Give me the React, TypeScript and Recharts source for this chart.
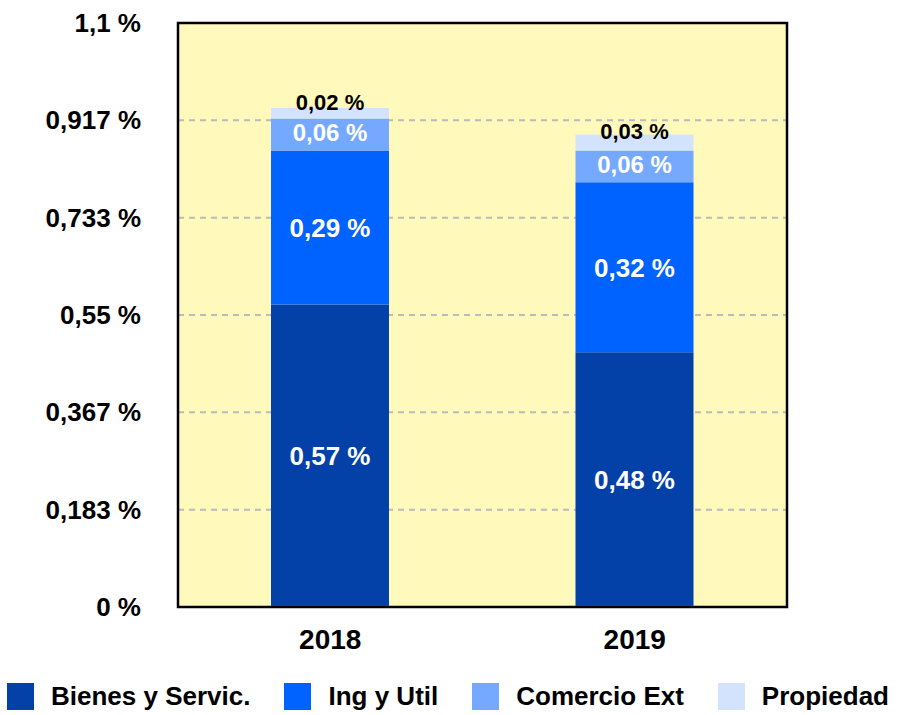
import { Bar, BarChart, CartesianGrid, LabelList, ReferenceArea, XAxis, YAxis } from "recharts";

const years = ["2018", "2019"];
const bienes = [0.57, 0.48];
const ingUtil = [0.29, 0.32];
const comercio = [0.06, 0.06];
const propiedad = [0.02, 0.03];
const yTicks = [0, 0.183, 0.367, 0.55, 0.733, 0.917, 1.1];

const seriesNames = ["Bienes y Servic.", "Ing y Util", "Comercio Ext", "Propiedad"];
const seriesKeys = ["bienes", "ingUtil", "comercio", "propiedad"];
const seriesColors = ["#0341a8", "#0062ff", "#75a9ff", "#d3e3fd"];

const data = years.map((year, i) => ({
  year,
  bienes: bienes[i],
  ingUtil: ingUtil[i],
  comercio: comercio[i],
  propiedad: propiedad[i],
}));

const FONT = "'Liberation Sans', Arial, Helvetica, sans-serif";

const fmtPct = (v: number) => v.toFixed(2).replace(".", ",") + " %";
const fmtTick = (v: number) => String(v).replace(".", ",") + " %";

function makeLabel(fontSize: number, color: string, shift: number) {
  return (props: any) => {
    const { x, y, width, height, value } = props;
    const cx = Number(x) + Number(width) / 2;
    const cy = Number(y) + Number(height) / 2 + shift;
    return (
      <text
        x={cx}
        y={cy}
        dy={fontSize * 0.36}
        textAnchor="middle"
        fill={color}
        fontSize={fontSize}
        fontWeight="bold"
        fontFamily={FONT}
      >
        {fmtPct(Number(value))}
      </text>
    );
  };
}

const YTick = (props: any) => {
  const { x, y, payload } = props;
  return (
    <text x={x} y={y} dy={9} textAnchor="end" fill="#000" fontSize={26} fontWeight="bold" fontFamily={FONT}>
      {fmtTick(payload.value)}
    </text>
  );
};

const XTick = (props: any) => {
  const { x, y, payload } = props;
  return (
    <text x={x} y={y} dy={42} textAnchor="middle" fill="#000" fontSize={28} fontWeight="bold" fontFamily={FONT}>
      {payload.value}
    </text>
  );
};

const labelStyles = [
  makeLabel(26, "#fff", 0),
  makeLabel(26, "#fff", 0),
  makeLabel(24, "#fff", -2),
  makeLabel(22, "#000", -11),
];

export default function App() {
  return (
    <div style={{ position: "absolute", left: 0, top: 0, width: 918, height: 715, background: "#fff" }}>
      <BarChart width={918} height={660} data={data} margin={{ top: 23, right: 131, left: 0, bottom: 0 }}>
        <CartesianGrid
          vertical={false}
          fill="#fffabb"
          stroke="#bbbbbb"
          strokeWidth={2}
          strokeDasharray="6 5"
        />
        <XAxis
          dataKey="year"
          height={53}
          axisLine={{ stroke: "#000", strokeWidth: 2 }}
          tickLine={false}
          tickSize={0}
          tickMargin={0}
          tick={<XTick />}
        />
        <YAxis
          width={178}
          domain={[0, 1.1]}
          ticks={yTicks}
          interval={0}
          axisLine={{ stroke: "#000", strokeWidth: 2 }}
          tickLine={false}
          tickSize={0}
          tickMargin={37}
          tick={<YTick />}
        />
        <ReferenceArea y1={0} y2={1.1} fill="none" stroke="#000" strokeWidth={2.5} ifOverflow="visible" />
        {seriesKeys.map((key, i) => (
          <Bar key={key} dataKey={key} stackId="a" fill={seriesColors[i]} barSize={118} isAnimationActive={false}>
            <LabelList dataKey={key} content={labelStyles[i]} />
          </Bar>
        ))}
      </BarChart>
      <div
        style={{
          position: "absolute",
          left: 7,
          top: 683,
          display: "flex",
          alignItems: "center",
          fontFamily: FONT,
          fontWeight: "bold",
          fontSize: 26,
          color: "#000",
        }}
      >
        {seriesNames.map((name, i) => (
          <div key={name} style={{ display: "flex", alignItems: "center", marginRight: 34 }}>
            <div style={{ width: 27, height: 27, background: seriesColors[i], marginRight: 17 }} />
            <span style={{ lineHeight: "27px", whiteSpace: "nowrap" }}>{name}</span>
          </div>
        ))}
      </div>
    </div>
  );
}
